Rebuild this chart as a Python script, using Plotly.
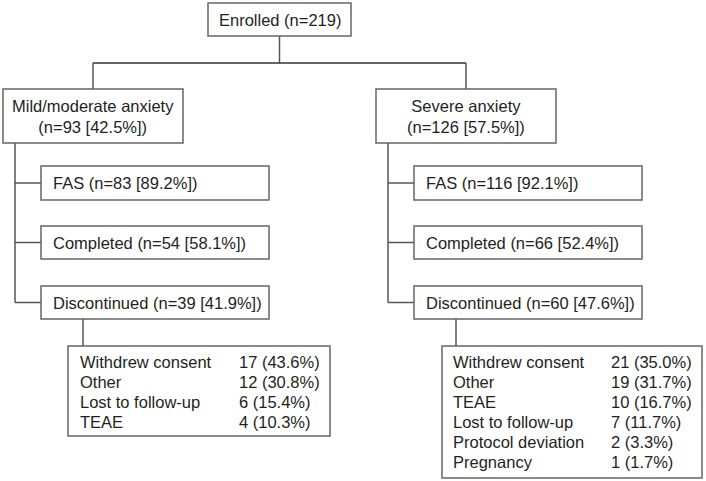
import plotly.graph_objects as go

# ---- data ----
enrolled_n = 219
group_names = ["Mild/moderate anxiety", "Severe anxiety"]
group_n = [93, 126]
group_pct = [42.5, 57.5]
fas_n = [83, 116]
fas_pct = [89.2, 92.1]
completed_n = [54, 66]
completed_pct = [58.1, 52.4]
disc_n = [39, 60]
disc_pct = [41.9, 47.6]
reasons_mild = ["Withdrew consent", "Other", "Lost to follow-up", "TEAE"]
reasons_mild_n = [17, 12, 6, 4]
reasons_mild_pct = [43.6, 30.8, 15.4, 10.3]
reasons_severe = ["Withdrew consent", "Other", "TEAE", "Lost to follow-up",
                  "Protocol deviation", "Pregnancy"]
reasons_severe_n = [21, 19, 10, 7, 2, 1]
reasons_severe_pct = [35.0, 31.7, 16.7, 11.7, 3.3, 1.7]

reasons = [(reasons_mild, reasons_mild_n, reasons_mild_pct),
           (reasons_severe, reasons_severe_n, reasons_severe_pct)]

# ---- layout geometry (pixels) ----
W, H = 706, 481
FONT = dict(family="Liberation Sans, Arial, sans-serif", size=16.5, color="#231f20")
BOX_LINE = dict(color="#666666", width=1.5)
CONN_LINE = dict(color="#555555", width=1.5)

shapes = []
annotations = []


def box(x0, y0, x1, y1):
    shapes.append(dict(type="rect", x0=x0, y0=y0, x1=x1, y1=y1,
                       line=BOX_LINE, fillcolor="white", layer="above"))


def line(x0, y0, x1, y1, color=None):
    ln = dict(CONN_LINE)
    if color:
        ln["color"] = color
    shapes.append(dict(type="line", x0=x0, y0=y0, x1=x1, y1=y1, line=ln, layer="below"))


def text(x, y, s, anchor="left"):
    annotations.append(dict(x=x, y=y, xref="x", yref="y", text=s, showarrow=False,
                            xanchor=anchor, yanchor="middle", font=FONT, align=anchor))


# enrolled
box(208, 3, 351, 36)
text(279.5, 19.5, f"Enrolled (n={enrolled_n})", "center")
line(279.5, 36, 279.5, 63)
line(93, 63, 466, 63, color="#333333")

group_geom = [
    dict(gx0=3, gx1=183, cx=93, vx=15, bx0=41, bx1=269, dx=83, rx0=68, rx1=330,
         ry1=436, lx=78, vxv=237),
    dict(gx0=376, gx1=556, cx=466, vx=388, bx0=414, bx1=642, dx=456, rx0=442, rx1=702,
         ry1=478, lx=451, vxv=609),
]

for i, g in enumerate(group_geom):
    line(g["cx"], 63, g["cx"], 89)
    box(g["gx0"], 89, g["gx1"], 143)
    text(g["cx"], 116.5, f"{group_names[i]}<br>(n={group_n[i]} [{group_pct[i]:.1f}%])", "center")
    # vertical spine
    line(g["vx"], 143, g["vx"], 302.5)
    rows = [
        (166, 200, f"FAS (n={fas_n[i]} [{fas_pct[i]:.1f}%])"),
        (226, 259, f"Completed (n={completed_n[i]} [{completed_pct[i]:.1f}%])"),
        (286, 319, f"Discontinued (n={disc_n[i]} [{disc_pct[i]:.1f}%])"),
    ]
    for (y0, y1, s) in rows:
        ym = (y0 + y1) / 2
        line(g["vx"], ym, g["bx0"], ym)
        box(g["bx0"], y0, g["bx1"], y1)
        text(g["bx0"] + 10, ym, s)
    # reasons
    line(g["dx"], 319, g["dx"], 346)
    box(g["rx0"], 346, g["rx1"], g["ry1"])
    names, ns, ps = reasons[i]
    for k, (nm, n, p) in enumerate(zip(names, ns, ps)):
        y = 362 + 20 * k
        text(g["lx"], y, nm)
        text(g["vxv"], y, f"{n} ({p:.1f}%)")

fig = go.Figure()
fig.update_layout(
    width=W, height=H,
    margin=dict(l=0, r=0, t=0, b=0),
    paper_bgcolor="white", plot_bgcolor="white",
    xaxis=dict(range=[0, W], visible=False, fixedrange=True),
    yaxis=dict(range=[H, 0], visible=False, fixedrange=True),
    shapes=shapes, annotations=annotations, showlegend=False,
)
fig.write_html("out.html", config={"displayModeBar": False},
               post_script="document.body.style.margin='0';document.body.style.overflow='hidden';")
